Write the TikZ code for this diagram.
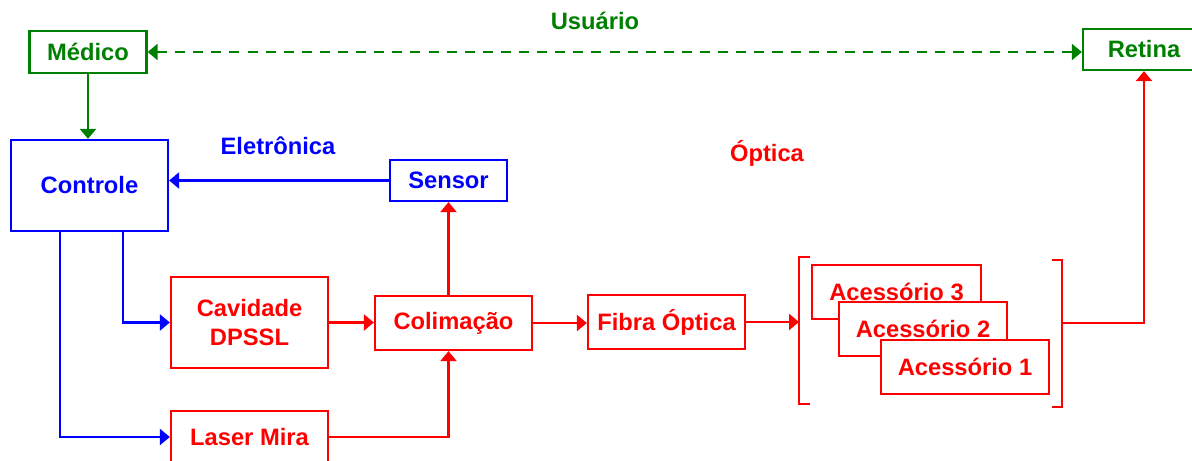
\documentclass[tikz,border=0pt]{standalone}
\usepackage{fontspec}
\setmainfont{Liberation Sans}
\usepackage{tikz}
\usetikzlibrary{arrows.meta,calc,positioning}
\usepackage{xcolor}
\definecolor{usergreen}{HTML}{008000}
\definecolor{elecblue}{HTML}{0000FF}
\definecolor{optred}{HTML}{FF0000}

\begin{document}
\begin{tikzpicture}[
  block/.style={draw=#1,text=#1,line width=1.3pt,fill=white,
    minimum width=31.4mm,minimum height=10.8mm,align=center,inner sep=0pt,
    font=\fontsize{13.5}{16}\selectfont\bfseries},
  flow/.style={-{Triangle[length=2mm,width=3.2mm]},line width=1.3pt,draw=#1},
  lab/.style={font=\fontsize{13.5}{16}\selectfont\bfseries}
]
\useasboundingbox (0,0) rectangle (23.84,-9.22);
% user level
\node[lab,usergreen] (usr) at (11.9,-0.42) {Usuário};
\node[block=usergreen,minimum width=23.4mm,minimum height=8.4mm] (med)
  at (1.76,-1.04) {Médico};
\node[block=usergreen,minimum width=24.4mm,minimum height=8.2mm] (ret)
  at (22.88,-0.99) {Retina};
\draw[flow=usergreen,
  {Triangle[length=2mm,width=3.2mm]}-{Triangle[length=2mm,width=3.2mm]},
  dash pattern=on 5.7pt off 4.6pt] (med.east) -- (med.east -| ret.west);

% electronics
\node[lab,elecblue] (elab) at (5.56,-2.92) {Eletrônica};
\node[block=elecblue,minimum height=18.2mm] (ctrl) at (1.79,-3.71)
  {Controle};
\node[block=elecblue,minimum width=23.4mm,minimum height=8.2mm] (sens)
  at (8.97,-3.61) {Sensor};
\draw[flow=usergreen] (med.south) -- (med.south |- ctrl.north);
\draw[flow=elecblue] (sens.west) -- (sens.west -| ctrl.east);

% optics
\node[lab,optred] (olab) at (15.34,-3.06) {Óptica};
\node[block=optred,minimum height=18.2mm] (cav) at (4.99,-6.45)
  {Cavidade\\DPSSL};
\node[block=optred] (colim) at (9.07,-6.46) {Colimação};
\node[block=optred] (fibra) at (13.33,-6.44) {Fibra Óptica};
\node[block=optred,minimum height=10.4mm] (mira) at (4.99,-8.74)
  {Laser Mira};
\node[block=optred,minimum width=33.8mm] (ac3) at (17.93,-5.84)
  {Acessório 3};
\node[block=optred,minimum width=33.6mm] (ac2) at (18.46,-6.58)
  {Acessório 2};
\node[block=optred,minimum width=33.6mm] (ac1) at (19.30,-7.34)
  {Acessório 1};
\draw[optred,line width=1.3pt] (16.2,-5.14) -- (15.98,-5.14) -- (15.98,-8.08)
  -- (16.2,-8.08);
\draw[optred,line width=1.3pt] (21.04,-5.2) -- (21.24,-5.2) -- (21.24,-8.14)
  -- (21.04,-8.14);
\coordinate (brl) at (15.98,-6.44);
\coordinate (brr) at (21.24,-6.46);

\draw[flow=elecblue] ([xshift=6.7mm]ctrl.south) |- (cav.west);
\draw[flow=elecblue] ([xshift=-5.9mm]ctrl.south) |- (mira.west);
\draw[flow=optred] (cav.east) -- (cav.east -| colim.west);
\draw[flow=optred] (colim.north -| sens.south) -- (sens.south);
\draw[flow=optred] (mira.east) -| (colim.south -| sens.south);
\draw[flow=optred] (colim.east) -- (colim.east -| fibra.west);
\draw[flow=optred] (fibra.east) -- (brl);
\draw[flow=optred] (brr) -| (ret.south);
\end{tikzpicture}
\end{document}
